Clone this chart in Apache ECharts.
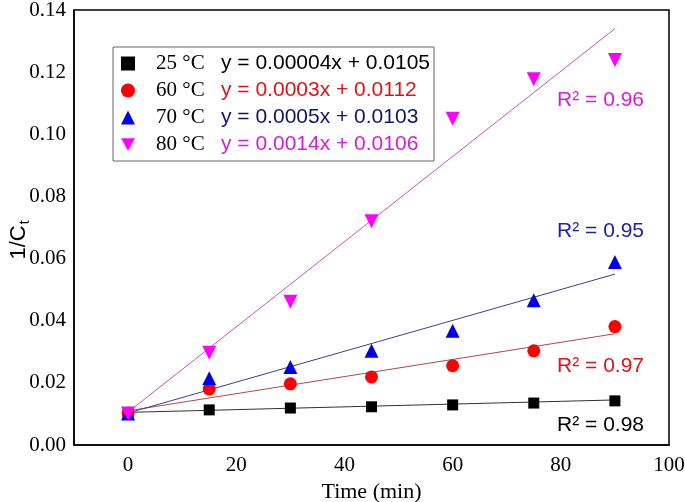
<!DOCTYPE html>
<html><head><meta charset="utf-8">
<script src="https://cdn.jsdelivr.net/npm/echarts@6/dist/echarts.min.js"></script>
<style>html,body{margin:0;padding:0;background:#fff}#c{width:685px;height:502px}</style>
</head><body><div id="c"></div>
<script>
const times = [0, 15, 30, 45, 60, 75, 90];
const temps = ['25 °C', '60 °C', '70 °C', '80 °C'];
const v25 = [0.0100, 0.0113, 0.0119, 0.0123, 0.0129, 0.0135, 0.0142];
const v60 = [0.0102, 0.0180, 0.0197, 0.0219, 0.0255, 0.0303, 0.0381];
const v70 = [0.0101, 0.0215, 0.0251, 0.0303, 0.0368, 0.0466, 0.0589];
const v80 = [0.0101, 0.0297, 0.0461, 0.0720, 0.1050, 0.1177, 0.1239];
const fitX = [0, 90];
const fit25 = [0.0105, 0.0145];
const fit60 = [0.0110, 0.0358];
const fit70 = [0.0103, 0.0550];
const fit80 = [0.0106, 0.1340];
const equations = ['y = 0.00004x + 0.0105', 'y = 0.0003x + 0.0112', 'y = 0.0005x + 0.0103', 'y = 0.0014x + 0.0106'];
const r2 = ['R² = 0.98', 'R² = 0.97', 'R² = 0.95', 'R² = 0.96'];
const xTicks = [0, 20, 40, 60, 80, 100];
const yTicks = [0, 0.02, 0.04, 0.06, 0.08, 0.10, 0.12, 0.14];

const markerColors = ['#000000', '#ff0000', '#0000ee', '#ff00ff'];
const textColors = ['#000000', '#d9141c', '#141466', '#d41ed4'];
const r2Colors = ['#000000', '#d9141c', '#1e1ea0', '#d41ed4'];
const lineColors = ['#303030', '#b04848', '#3c3c8c', '#c450c8'];
const symbols = ['rect', 'circle', 'triangle', 'path://M0,0 L10,0 L5,9 Z'];
const symSizes = [11, 13, 14, 14];
const values = [v25, v60, v70, v80];
const fits = [fit25, fit60, fit70, fit80];

const chart = echarts.init(document.getElementById('c'));
const series = [];
fits.forEach((f, i) => {
  series.push({
    type: 'line', name: 'fit' + i, data: fitX.map((x, k) => [x, f[k]]),
    symbol: 'none', lineStyle: {color: lineColors[i], width: 1}, z: 2, silent: true
  });
});
values.forEach((v, i) => {
  series.push({
    type: 'scatter', name: temps[i], data: times.map((t, k) => [t, v[k]]),
    symbol: symbols[i], symbolSize: symSizes[i], itemStyle: {color: markerColors[i], opacity: 1}, z: 3
  });
});
const rich = {t: {fontFamily: 'Liberation Serif', fontSize: 21, color: '#000', width: 65, padding: [0, 0, 0, 16]}};
textColors.forEach((c, i) => { rich['e' + i] = {fontFamily: 'Liberation Sans', fontSize: 21, color: c}; });

const graphics = r2.map((s, i) => ({
  type: 'text', right: 41, top: [415, 356, 221, 90][i],
  style: {text: s, fontFamily: 'Liberation Sans', fontSize: 21, fill: r2Colors[i]}
}));
graphics.push({
  type: 'text', x: 19, y: 240, rotation: Math.PI / 2,
  style: {text: '{a|1/C}{b|t}', align: 'center', verticalAlign: 'middle',
    rich: {a: {fontFamily: 'Liberation Sans', fontSize: 22, fill: '#000'},
      b: {fontFamily: 'Liberation Sans', fontSize: 14, fill: '#000', padding: [12, 0, 0, 1]}}}
});

chart.setOption({
  animation: false,
  grid: {left: 74, right: 16, top: 10, bottom: 57, show: true, borderColor: '#000', borderWidth: 1.5,
    containLabel: false, outerBoundsMode: 'none'},
  xAxis: {
    type: 'value', min: -10, max: 100, interval: 10,
    axisLine: {show: true, onZero: false, lineStyle: {color: '#000', width: 1.5}},
    axisTick: {show: false}, splitLine: {show: false},
    axisLabel: {fontFamily: 'Liberation Serif', fontSize: 21, color: '#000', margin: 10,
      formatter: v => xTicks.includes(v) ? String(v) : ''},
    name: 'Time (min)', nameLocation: 'middle', nameGap: 34,
    nameTextStyle: {fontFamily: 'Liberation Serif', fontSize: 22, color: '#000'}
  },
  yAxis: {
    type: 'value', min: 0, max: 0.14, interval: 0.02,
    axisLine: {show: true, onZero: false, lineStyle: {color: '#000', width: 1.5}},
    axisTick: {show: false}, splitLine: {show: false},
    axisLabel: {fontFamily: 'Liberation Serif', fontSize: 21, color: '#000', margin: 8,
      formatter: v => v.toFixed(2)}
  },
  legend: {
    data: temps, orient: 'vertical', left: 113, top: 47, padding: [6, 4, 6, 8],
    itemWidth: 14, itemHeight: 14, itemGap: 6,
    borderColor: '#666', borderWidth: 1, backgroundColor: '#fff',
    formatter: name => { const i = temps.indexOf(name); return '{t|' + name + '}{e' + i + '|' + equations[i] + '}'; },
    textStyle: {rich: rich}
  },
  graphic: graphics,
  series: series
});
</script></body></html>
